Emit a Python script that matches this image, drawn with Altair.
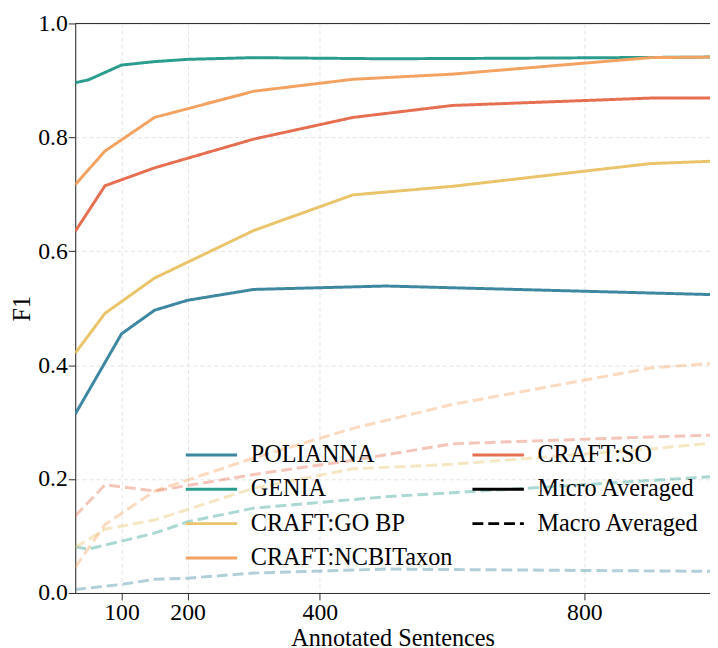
import altair as alt
import pandas as pd

# ---- data ----
x_polianna = [30, 100, 150, 200, 300, 500, 990]
micro_polianna = [0.314, 0.455, 0.4965, 0.514, 0.533, 0.539, 0.524]
macro_polianna = [0.006, 0.015, 0.024, 0.026, 0.035, 0.042, 0.038]

x_genia = [30, 50, 100, 150, 200, 300, 500, 700, 990]
micro_genia = [0.896, 0.901, 0.927, 0.933, 0.937, 0.940, 0.938, 0.939, 0.941]
macro_genia = [0.081, 0.077, 0.091, 0.105, 0.125, 0.149, 0.169, 0.183, 0.204]

x_craft = [30, 75, 150, 300, 450, 600, 900, 990]
micro_gobp = [0.421, 0.491, 0.553, 0.6365, 0.699, 0.714, 0.754, 0.758]
macro_gobp = [0.080, 0.112, 0.128, 0.184, 0.218, 0.226, 0.253, 0.263]
micro_ncbi = [0.717, 0.776, 0.835, 0.881, 0.902, 0.911, 0.940, 0.941]
macro_ncbi = [0.045, 0.120, 0.179, 0.237, 0.289, 0.331, 0.395, 0.403]
micro_so = [0.635, 0.715, 0.7465, 0.797, 0.835, 0.856, 0.869, 0.869]
macro_so = [0.135, 0.190, 0.179, 0.208, 0.233, 0.262, 0.274, 0.277]

datasets = ["POLIANNA", "GENIA", "CRAFT:GO BP", "CRAFT:NCBITaxon", "CRAFT:SO"]
colors = ["#3d87a1", "#2a9d8f", "#e9c46a", "#f4a261", "#e76f51"]
x_ticks = [100, 200, 400, 800]
y_ticks = [0.0, 0.2, 0.4, 0.6, 0.8, 1.0]

series = [
    ("POLIANNA", x_polianna, micro_polianna, macro_polianna),
    ("GENIA", x_genia, micro_genia, macro_genia),
    ("CRAFT:GO BP", x_craft, micro_gobp, macro_gobp),
    ("CRAFT:NCBITaxon", x_craft, micro_ncbi, macro_ncbi),
    ("CRAFT:SO", x_craft, micro_so, macro_so),
]
rows = []
for name, xs, mi, ma in series:
    for xv, v in zip(xs, mi):
        rows.append({"dataset": name, "n": xv, "f1": v, "avg": "Micro"})
    for xv, v in zip(xs, ma):
        rows.append({"dataset": name, "n": xv, "f1": v, "avg": "Macro"})
df = pd.DataFrame(rows)

FONT = "Liberation Serif"
AX = "#2b2b2b"

# legend entries (filled column by column: 4 in the first, 3 in the second)
leg_domain = datasets + ["Micro Averaged", "Macro Averaged"]
leg_colors = colors + ["black", "black"]
leg_dash = [[1, 0]] * 6 + [[11, 5]]

legend = alt.Legend(
    title=None, orient="none", legendX=106, legendY=424, columns=2,
    symbolType="M-1,0H7", symbolSize=169, symbolStrokeWidth=3,
    labelFont=FONT, labelFontSize=24.5, labelColor="black", labelLimit=400,
    rowPadding=9.8, columnPadding=13, labelOffset=47, padding=0,
    symbolOpacity=1,
)

xscale = alt.Scale(domain=[30, 990], nice=False, zero=False)
yscale = alt.Scale(domain=[0, 1], nice=False)

xenc = alt.X("n:Q", scale=xscale, axis=alt.Axis(
    values=x_ticks, format="d", title="Annotated Sentences",
    titleFont=FONT, titleFontSize=24.5, titleFontWeight="normal", titleColor="black",
    labelFont=FONT, labelFontSize=24, labelColor="black",
    tickSize=7, tickColor=AX, domainColor=AX, labelPadding=1, titlePadding=2,
    gridColor="#e4e4e4", gridDash=[4, 3], labelFlush=False,
))
yenc = alt.Y("f1:Q", scale=yscale, axis=alt.Axis(
    values=y_ticks, format=".1f", title="F1",
    titleFont=FONT, titleFontSize=24.5, titleFontWeight="normal", titleColor="black",
    labelFont=FONT, labelFontSize=24, labelColor="black",
    tickSize=7, tickColor=AX, domainColor=AX, labelPadding=1, titlePadding=3,
    gridColor="#e4e4e4", gridDash=[4, 3], labelFlush=False,
))

base = alt.Chart(df)

dashed = base.transform_filter(alt.datum.avg == "Macro").mark_line(
    strokeWidth=3, opacity=0.4, strokeDash=[11, 5], clip=True
).encode(
    x=xenc, y=yenc,
    color=alt.Color("dataset:N", scale=alt.Scale(domain=leg_domain, range=leg_colors), legend=legend),
)

solid = base.transform_filter(alt.datum.avg == "Micro").mark_line(
    strokeWidth=3, clip=True
).encode(
    x=xenc, y=yenc,
    color=alt.Color("dataset:N", scale=alt.Scale(domain=leg_domain, range=leg_colors), legend=legend),
    strokeDash=alt.StrokeDash("dataset:N", scale=alt.Scale(domain=leg_domain, range=leg_dash), legend=legend),
)

top_spine = alt.Chart(pd.DataFrame({"v": [1.0]})).mark_rule(color=AX, strokeWidth=1).encode(
    y=alt.Y("v:Q", scale=yscale)
)

chart = alt.layer(dashed, solid, top_spine).properties(
    width=642, height=576, autosize="none",
    padding={"left": 68, "top": 12, "right": 0, "bottom": 52},
).configure_view(stroke=None).configure(background="white")

chart.save("out.html", embed_options={"renderer": "svg", "actions": False})
